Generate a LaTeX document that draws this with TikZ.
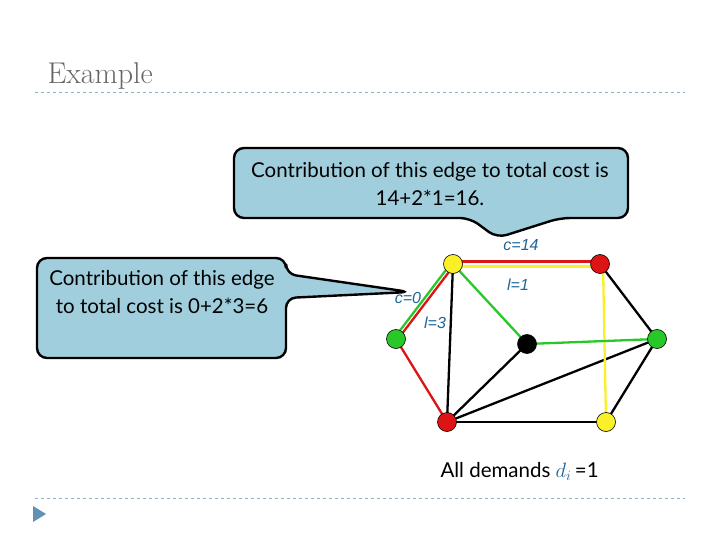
\documentclass[tikz,border=0pt]{standalone}
\usepackage{fontspec}
\newfontfamily\callfont{Lato}
\newfontfamily\lblfont{Liberation Sans}
\begin{document}
\begin{tikzpicture}[x=1pt,y=-1pt,
  vtx/.style={circle,draw=black,line width=0.6pt,minimum size=19pt,inner sep=0pt},
  callout/.style={fill=bubble,draw=black,line width=2.4pt,rounded corners=10pt},
  lbl/.style={text=lblblue,font=\lblfont\itshape\fontsize{16}{18}\selectfont},
  ed/.style={line width=2.3pt},
  sep/.style={dashed,draw=sepcol,line width=0.7pt}]
\definecolor{bubble}{RGB}{160,206,221}
\definecolor{lblblue}{RGB}{30,100,150}
\definecolor{sepcol}{RGB}{140,180,190}
\definecolor{gr}{RGB}{40,200,40}
\definecolor{rd}{RGB}{220,20,20}
\definecolor{yl}{RGB}{250,240,40}
\useasboundingbox (0,0) rectangle (720,540);
\node[anchor=base west,text=gray!80!black,font=\fontsize{30}{34}\selectfont] (title) at (44,84) {Example};
\draw[sep] (35,92) -- (685,92);
\draw[sep] (35,498) -- (685,498);
\fill[fill=lblblue!70] (33,506) -- (46,514) -- (33,522) -- cycle;
% callouts
\draw[callout] (234,148) -- (628,148) -- (628,218) -- (560,218) -- (497,238) -- (470,218) -- (234,218) -- cycle;
\node[font=\callfont\fontsize{20.5}{28}\selectfont,align=center] (t1) at (430,184) {Contribution of this edge to total cost is\\ 14+2*1=16.};
\draw[callout] (37,258) -- (286,258) -- (286,274) -- (410,292) -- (286,298) -- (286,358) -- (37,358) -- cycle;
\node[font=\callfont\fontsize{20.5}{28}\selectfont,align=center] (t2) at (162,292) {Contribution of this edge\\ to total cost is 0+2*3=6};
% vertices positions
\coordinate (A) at (453,264);
\coordinate (B) at (600,264);
\coordinate (C) at (396,339);
\coordinate (D) at (527,344);
\coordinate (E) at (657,339);
\coordinate (F) at (447,422);
\coordinate (G) at (606,422);
% edges
\draw[ed] (A) -- (F); \draw[ed] (D) -- (F); \draw[ed] (F) -- (E);
\draw[ed] (F) -- (G); \draw[ed] (E) -- (G); \draw[ed] (B) -- (E);
\draw[ed,rd] (C) -- (F);
\draw[ed,rd] ([yshift=2.5]A) -- ([yshift=2.5]B);
\draw[ed,yl] ([yshift=-2.5]A) -- ([yshift=-2.5]B);
\draw[ed,yl] ([xshift=3]B) -- (G);
\draw[ed,gr] ([xshift=-2.5]A) -- ([xshift=-2.5]C);
\draw[ed,rd] ([xshift=2]A) -- ([xshift=2]C);
\draw[ed,gr] (A) -- (D); \draw[ed,gr] (D) -- (E);
\node[vtx,fill=yl] (a) at (A) {};
\node[vtx,fill=rd] (b) at (B) {};
\node[vtx,fill=gr] (c) at (C) {};
\node[vtx,fill=black] (d) at (D) {};
\node[vtx,fill=gr] (e) at (E) {};
\node[vtx,fill=rd] (f) at (F) {};
\node[vtx,fill=yl] (g) at (G) {};
\node[lbl] (l1) at (521,245) {c=14};
\node[lbl] (l2) at (518,285) {l=1};
\node[lbl] (l3) at (408,298) {c=0};
\node[lbl] (l4) at (435,323) {l=3};
\node[anchor=base west,font=\callfont\fontsize{20.5}{24}\selectfont] (dem) at (437,477) {All demands \textcolor{lblblue}{$d_i$}\,=1};
\end{tikzpicture}
\end{document}
